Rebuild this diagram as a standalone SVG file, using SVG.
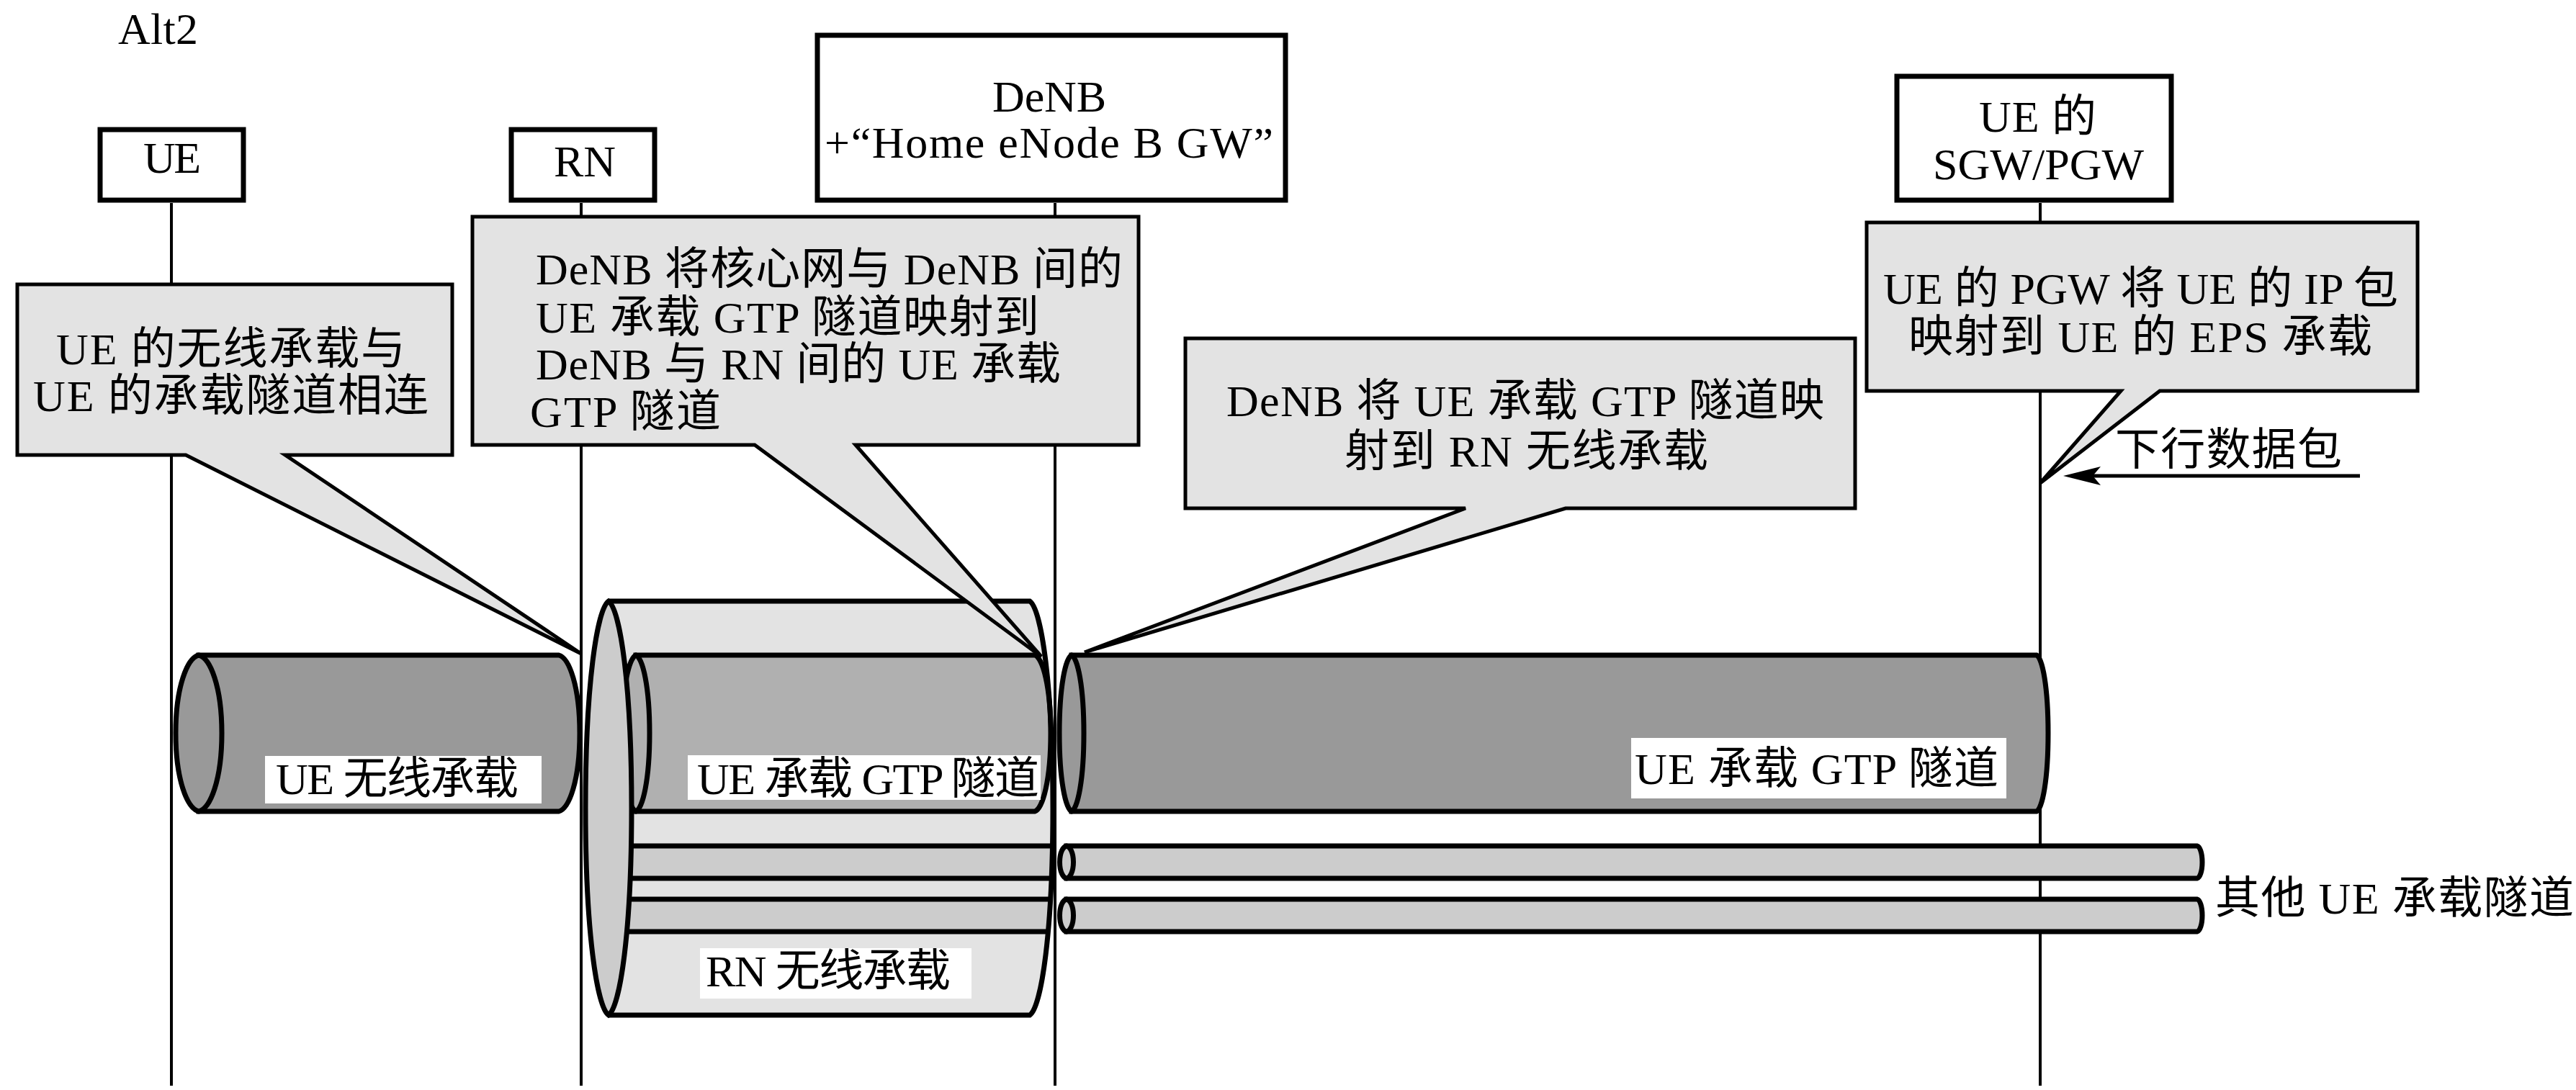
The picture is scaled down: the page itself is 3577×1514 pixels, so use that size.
<svg xmlns="http://www.w3.org/2000/svg" width="3577" height="1514" viewBox="0 0 3577 1514">
<style>
text{font-family:"Liberation Serif","Noto Sans CJK SC",serif;font-size:62px;fill:#000}
.box{fill:#fff;stroke:#000;stroke-width:7}
.life{stroke:#000;stroke-width:4;fill:none}
.call{fill:#e3e3e3;stroke:#000;stroke-width:5;stroke-linejoin:miter;stroke-miterlimit:4}
.cyl{stroke:#000;stroke-width:7}
.dark{fill:#999}
.mid{fill:#b0b0b0}
.light{fill:#ccc}
.pale{fill:#e3e3e3}
.wl{fill:#fff}
</style>
<g id="connectors">
<path class="life" d="M238,282V1508M807,282V1508M1465,282V1508M2833,282V1508"/>
<path d="M3277,661H2900" stroke="#000" stroke-width="5" fill="none"/>
<path d="M2865,661L2917,648L2906,661L2917,674Z" fill="#000"/>
</g>
<text id="title" x="164" y="61" textLength="111">Alt2</text>
<g id="node-ue"><rect class="box" x="139" y="180" width="199" height="98"/><text x="199" y="240" textLength="80">UE</text></g>
<g id="node-rn"><rect class="box" x="710" y="180" width="199" height="98"/><text x="769" y="245" textLength="86">RN</text></g>
<g id="node-denb"><rect class="box" x="1135" y="49" width="650" height="229"/><text x="1378" y="155" textLength="158">DeNB</text><text x="1145" y="219" textLength="623">+“Home eNode B GW”</text></g>
<g id="node-sgw"><rect class="box" x="2634" y="106" width="381" height="172"/><text x="2748" y="183" textLength="163">UE 的</text><text x="2684" y="249" textLength="293">SGW/PGW</text></g>

<g id="tunnel-ue-radio">
<path class="cyl dark" d="M276,910H776C790.5,914 805,953.5 805,1018.5C805,1083.5 790.5,1123 776,1127H276Z"/>
<path class="cyl dark" d="M276,910C292,914 308,953.5 308,1018.5C308,1083.5 292,1123 276,1127C260,1123 244,1083.5 244,1018.5C244,953.5 260,914 276,910Z"/>
<rect class="wl" x="368" y="1050" width="384" height="66"/>
<text x="383" y="1103" textLength="337">UE 无线承载</text>
</g>

<g id="tunnel-rn-radio">
<path class="pale" d="M845,835H1430C1446,846.5 1462,950 1462,1122.500C1462,1295 1446,1398.500 1430,1410H845Z"/>
<rect class="light" x="860" y="1175" width="599" height="45"/>
<rect class="light" x="860" y="1249" width="597" height="45"/>
<path class="cyl" fill="none" d="M860,1175H1460M860,1220H1460M860,1249H1458M860,1294H1455"/>
<path class="cyl mid" d="M883,910H1437C1448,914 1459,953.5 1459,1018.5C1459,1083.5 1448,1123 1437,1127H883Z"/>
<path class="cyl mid" d="M883,910C892.5,914 902,953.5 902,1018.5C902,1083.5 892.5,1123 883,1127C873.5,1123 864,1083.5 864,1018.5C864,953.5 873.5,914 883,910Z"/>
<path class="cyl" fill="none" d="M845,835H1430C1446,846.5 1462,950 1462,1122.500C1462,1295 1446,1398.500 1430,1410H845"/>
<path class="cyl light" d="M845,835C861,846.5 877,950 877,1122.500C877,1295 861,1398.500 845,1410C829,1398.500 813,1295 813,1122.500C813,950 829,846.5 845,835Z"/>
<rect class="wl" x="955" y="1049" width="490" height="62"/>
<text x="968" y="1103" textLength="475">UE 承载 GTP 隧道</text>
<rect class="wl" x="972" y="1317" width="377" height="70"/>
<text x="980" y="1370" textLength="340">RN 无线承载</text>
</g>

<g id="tunnel-gtp">
<path class="cyl dark" d="M1488,910H2828C2836,914 2844,953.5 2844,1018.5C2844,1083.5 2836,1123 2828,1127H1488Z"/>
<path class="cyl dark" d="M1488,910C1496.5,914 1505,953.5 1505,1018.5C1505,1083.5 1496.5,1123 1488,1127C1479.5,1123 1471,1083.5 1471,1018.5C1471,953.5 1479.5,914 1488,910Z"/>
<rect class="wl" x="2265" y="1025" width="521" height="84"/>
<text x="2270" y="1089" textLength="505">UE 承载 GTP 隧道</text>
</g>

<g id="tunnel-other-1">
<path class="cyl light" d="M1481,1175H3051C3054.5,1176 3058,1184 3058,1197.5C3058,1211 3054.5,1219 3051,1220H1481Z"/>
<path class="cyl light" d="M1481,1175C1485.75,1176 1490.5,1184 1490.5,1197.5C1490.5,1211 1485.75,1219 1481,1220C1476.25,1219 1471.5,1211 1471.5,1197.5C1471.5,1184 1476.25,1176 1481,1175Z"/>
</g>
<g id="tunnel-other-2">
<path class="cyl light" d="M1481,1249H3051C3054.5,1250 3058,1258 3058,1271.5C3058,1285 3054.5,1293 3051,1294H1481Z"/>
<path class="cyl light" d="M1481,1249C1485.75,1250 1490.5,1258 1490.5,1271.5C1490.5,1285 1485.75,1293 1481,1294C1476.25,1293 1471.5,1285 1471.5,1271.5C1471.5,1258 1476.25,1250 1481,1249Z"/>
</g>
<text id="label-other" x="3076" y="1269" textLength="498">其他 UE 承载隧道</text>
<text id="label-downlink" x="2937" y="646" textLength="315">下行数据包</text>

<g id="callout-1">
<path class="call" d="M24,395H628V632H396L807,908L258,632H24Z"/>
<text x="78" y="506" textLength="485">UE 的无线承载与</text>
<text x="46" y="571" textLength="549">UE 的承载隧道相连</text>
</g>
<g id="callout-2">
<path class="call" d="M656,301H1581V618H1188L1446,912L1048,618H656Z"/>
<text x="744" y="395" textLength="815">DeNB 将核心网与 DeNB 间的</text>
<text x="744" y="462" textLength="699">UE 承载 GTP 隧道映射到</text>
<text x="744" y="527" textLength="729">DeNB 与 RN 间的 UE 承载</text>
<text x="736" y="593" textLength="265">GTP 隧道</text>
</g>
<g id="callout-3">
<path class="call" d="M1646,470H2576V706H2174L1506,906L2035,706H1646Z"/>
<text x="1703" y="578" textLength="830">DeNB 将 UE 承载 GTP 隧道映</text>
<text x="1867" y="648" textLength="505">射到 RN 无线承载</text>
</g>
<g id="callout-4">
<path class="call" d="M2592,309H3357V543H2999L2833,671L2945,543H2592Z"/>
<text x="2615" y="422" textLength="715">UE 的 PGW 将 UE 的 IP 包</text>
<text x="2650" y="489" textLength="644">映射到 UE 的 EPS 承载</text>
</g>
</svg>
